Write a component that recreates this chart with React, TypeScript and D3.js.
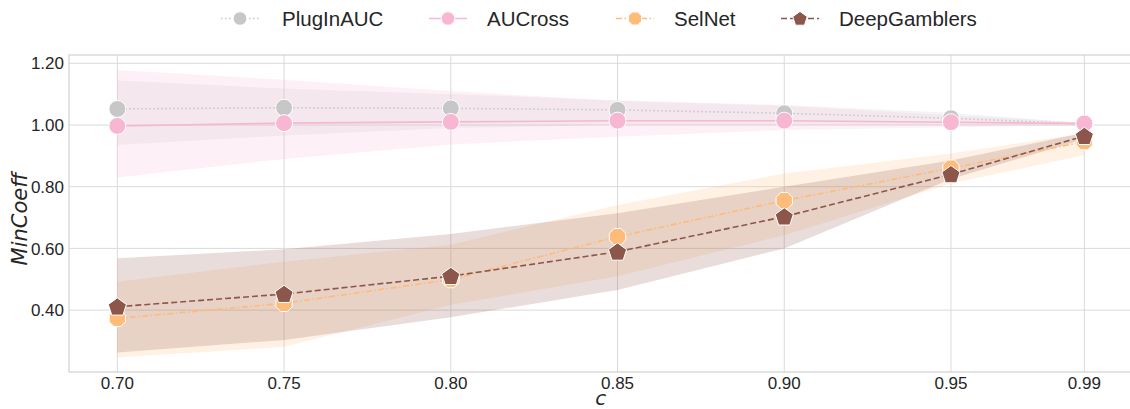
import React from "react";
import * as d3 from "d3";

// Coverage levels c on the x axis
const cValues = [0.7, 0.75, 0.8, 0.85, 0.9, 0.95, 0.99];
const xTickLabels = ["0.70", "0.75", "0.80", "0.85", "0.90", "0.95", "0.99"];
const yTicks = [0.4, 0.6, 0.8, 1.0, 1.2];

// MinCoeff per method: mean and confidence band
const pluginMean = [1.052, 1.056, 1.054, 1.049, 1.038, 1.022, 1.003];
const pluginLow = [0.935, 0.966, 0.99, 1.0, 1.0, 1.0, 0.998];
const pluginHigh = [1.144, 1.118, 1.1, 1.08, 1.065, 1.04, 1.006];

const aucrossMean = [0.997, 1.006, 1.01, 1.014, 1.014, 1.009, 1.005];
const aucrossLow = [0.83, 0.89, 0.937, 0.962, 0.984, 0.993, 0.999];
const aucrossHigh = [1.178, 1.147, 1.11, 1.078, 1.062, 1.032, 1.008];

const selnetMean = [0.373, 0.422, 0.499, 0.638, 0.755, 0.86, 0.946];
const selnetLow = [0.246, 0.281, 0.417, 0.51, 0.643, 0.81, 0.903];
const selnetHigh = [0.492, 0.557, 0.612, 0.741, 0.843, 0.908, 0.973];

const deepMean = [0.411, 0.452, 0.51, 0.589, 0.703, 0.84, 0.964];
const deepLow = [0.263, 0.303, 0.377, 0.465, 0.6, 0.825, 0.955];
const deepHigh = [0.568, 0.597, 0.647, 0.714, 0.8, 0.885, 0.975];

type Shape = "circle" | "octagon" | "pentagon";
interface Series {
  name: string;
  color: string;
  dash: string;
  shape: Shape;
  mean: number[];
  low: number[];
  high: number[];
}

const series: Series[] = [
  { name: "PlugInAUC", color: "#c7c7c7", dash: "1.5 2.5", shape: "circle", mean: pluginMean, low: pluginLow, high: pluginHigh },
  { name: "AUCross", color: "#f7b6d2", dash: "", shape: "circle", mean: aucrossMean, low: aucrossLow, high: aucrossHigh },
  { name: "SelNet", color: "#ffbb78", dash: "6 2.5 1.5 2.5", shape: "octagon", mean: selnetMean, low: selnetLow, high: selnetHigh },
  { name: "DeepGamblers", color: "#8c564b", dash: "6 3", shape: "pentagon", mean: deepMean, low: deepLow, high: deepHigh },
];

const W = 1130;
const H = 409;
const plot = { left: 69, right: 1132.7, top: 55, bottom: 372 };

const x = d3.scaleLinear().domain([0.6855, 1.0045]).range([plot.left, plot.right]);
const y = d3.scaleLinear().domain([0.1994, 1.2269]).range([plot.bottom, plot.top]);

const TEXT = "#262626";
const GRID = "#dadada";
const SANS = "'Liberation Sans', Arial, sans-serif";
const MATH = "'DejaVu Sans', sans-serif";

function polygonPath(cx: number, cy: number, r: number, n: number, rot: number) {
  const pts: [number, number][] = [];
  for (let i = 0; i < n; i++) {
    const a = rot + (i * 2 * Math.PI) / n;
    pts.push([cx + r * Math.cos(a), cy + r * Math.sin(a)]);
  }
  return "M" + pts.map((p) => p[0].toFixed(2) + "," + p[1].toFixed(2)).join("L") + "Z";
}

function Marker({ shape, cx, cy, r, color }: { shape: Shape; cx: number; cy: number; r: number; color: string }) {
  if (shape === "circle") {
    return <circle cx={cx} cy={cy} r={r} fill={color} stroke="#ffffff" strokeWidth={1} />;
  }
  if (shape === "octagon") {
    return <path d={polygonPath(cx, cy, r * 1.04, 8, Math.PI / 8)} fill={color} stroke="#ffffff" strokeWidth={1} />;
  }
  return <path d={polygonPath(cx, cy + r * 0.08, r * 1.12, 5, -Math.PI / 2)} fill={color} stroke="#ffffff" strokeWidth={1} />;
}

const legendItems = [
  { marker: 240, text: 282 },
  { marker: 448, text: 487 },
  { marker: 635, text: 674 },
  { marker: 800, text: 839 },
];

export default function App() {
  const line = d3
    .line<number>()
    .x((_, i) => x(cValues[i]))
    .y((d) => y(d));

  const bandPath = (s: Series) =>
    d3
      .area<number>()
      .x((_, i) => x(cValues[i]))
      .y0((_, i) => y(s.low[i]))
      .y1((_, i) => y(s.high[i]))(s.mean) || "";

  return (
    <svg width={W} height={H} style={{ position: "absolute", left: 0, top: 0, background: "#ffffff" }}>
      <rect x={0} y={0} width={W} height={H} fill="#ffffff" />

      {/* grid */}
      <g>
        {cValues.map((c) => (
          <line key={"vx" + c} x1={x(c)} x2={x(c)} y1={plot.top} y2={plot.bottom} stroke={GRID} strokeWidth={1} />
        ))}
        {yTicks.map((t) => (
          <line key={"hy" + t} x1={plot.left} x2={plot.right} y1={y(t)} y2={y(t)} stroke={GRID} strokeWidth={1} />
        ))}
      </g>

      {/* frame */}
      <rect
        x={plot.left}
        y={plot.top}
        width={plot.right - plot.left}
        height={plot.bottom - plot.top}
        fill="none"
        stroke="#d3d3d3"
        strokeWidth={1.25}
      />

      {/* confidence bands */}
      <g>
        {series.map((s) => (
          <path key={"band" + s.name} d={bandPath(s)} fill={s.color} fillOpacity={0.2} stroke="none" />
        ))}
      </g>

      {/* lines and markers */}
      {series.map((s) => (
        <g key={"line" + s.name}>
          <path
            d={line(s.mean) || ""}
            fill="none"
            stroke={s.color}
            strokeWidth={1.6}
            strokeDasharray={s.dash || undefined}
          />
          {s.mean.map((v, i) => (
            <Marker key={i} shape={s.shape} cx={x(cValues[i])} cy={y(v)} r={8.5} color={s.color} />
          ))}
        </g>
      ))}

      {/* x tick labels */}
      {cValues.map((c, i) => (
        <text key={"xt" + c} x={x(c)} y={388.5} textAnchor="middle" fontFamily={SANS} fontSize={17} fill={TEXT}>
          {xTickLabels[i]}
        </text>
      ))}

      {/* y tick labels */}
      {yTicks.map((t) => (
        <text key={"yt" + t} x={64} y={y(t) + 6.1} textAnchor="end" fontFamily={SANS} fontSize={17} fill={TEXT}>
          {d3.format(".2f")(t)}
        </text>
      ))}

      {/* axis labels */}
      <text x={(plot.left + plot.right) / 2} y={404.5} textAnchor="middle" fontFamily={MATH} fontStyle="italic" fontSize={20} fill={TEXT}>
        c
      </text>
      <text
        transform={`translate(27, 219) rotate(-90)`}
        textAnchor="middle"
        fontFamily={MATH}
        fontStyle="italic"
        fontSize={21}
        fill={TEXT}
      >
        MinCoeff
      </text>

      {/* legend */}
      {series.map((s, i) => {
        const it = legendItems[i];
        const cy = 18.5;
        return (
          <g key={"lg" + s.name}>
            <line
              x1={it.marker - 19}
              x2={it.marker + 19}
              y1={cy}
              y2={cy}
              stroke={s.color}
              strokeWidth={1.6}
              strokeDasharray={s.dash || undefined}
            />
            <Marker shape={s.shape} cx={it.marker} cy={cy} r={6.8} color={s.color} />
            <text x={it.text} y={cy + 7.8} fontFamily={SANS} fontSize={20.5} fill={TEXT}>
              {s.name}
            </text>
          </g>
        );
      })}
    </svg>
  );
}
